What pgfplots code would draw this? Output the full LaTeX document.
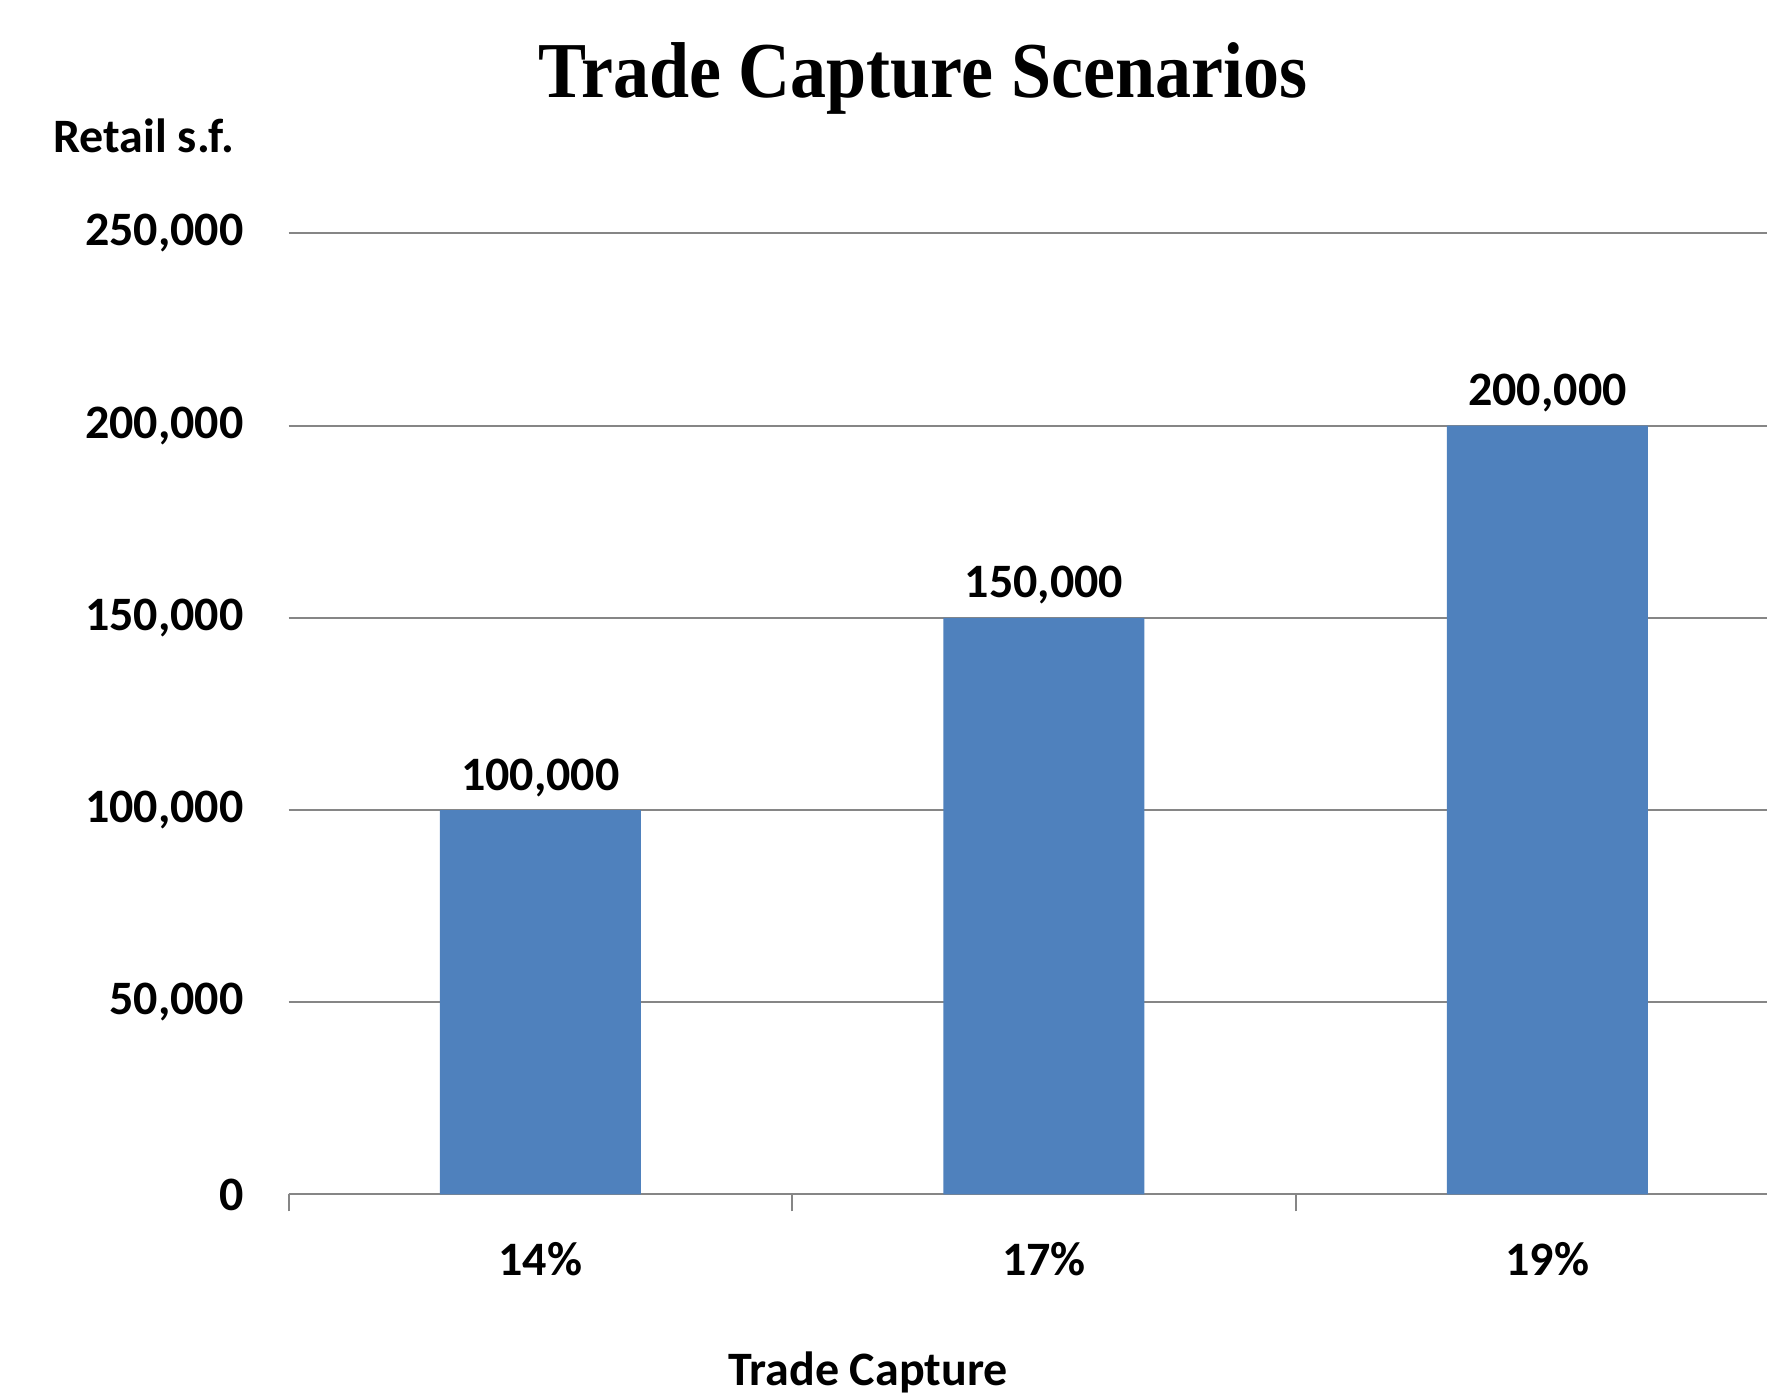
\documentclass[border=0pt]{standalone}
\usepackage{fontspec}
\setmainfont{Carlito}
\newfontfamily\titlefont{Liberation Serif}
\usepackage{pgfplots}
\pgfplotsset{compat=1.18}
\definecolor{barblue}{HTML}{4F81BD}
\definecolor{gridgray}{HTML}{868686}
\begin{document}
\begin{tikzpicture}
\useasboundingbox (0pt,0pt) rectangle (883.5pt,697.5pt);
\begin{axis}[
  at={(144.25pt,100.25pt)}, anchor=south west,
  scale only axis, width=739.25pt, height=480.6pt,
  xmin=-0.5, xmax=2.436, ymin=0, ymax=250000,
  axis x line*=bottom, axis y line*=left,
  x axis line style={draw=gridgray, line width=1pt, -},
  y axis line style={draw=none},
  ytick={0,50000,100000,150000,200000,250000},
  ymajorgrids, grid style={draw=gridgray, line width=1pt},
  ytick style={draw=none},
  scaled y ticks=false,
  /pgf/number format/.cd, fixed, 1000 sep={,}, assume math mode=true, /pgfplots/.cd,
  yticklabel style={font=\fontsize{24}{28}\selectfont\bfseries, anchor=east, inner sep=0pt, xshift=-13.75pt},
  xtick={-0.5,0.5,1.5,2.5}, xticklabels={},
  tick align=outside, major tick length=8.5pt,
  xtick style={draw=gridgray, line width=1pt},
  extra x ticks={0,1,2},
  extra x tick labels={14\%,17\%,19\%},
  extra x tick style={major tick length=0pt, tick style={draw=none}, xticklabel style={font=\fontsize{24}{28}\selectfont\bfseries, anchor=base, inner sep=0pt, yshift=-40.75pt}},
  ybar, bar width=100.5pt,
  nodes near coords,
  nodes near coords style={font=\fontsize{24}{28}\selectfont\bfseries, anchor=base, inner sep=0pt, yshift=10pt},
  clip=false,
]
\addplot[fill=barblue, draw=none] coordinates {(0,100000) (1,150000) (2,200000)};
\end{axis}
\node[anchor=base, inner sep=0pt] at (461.5pt,648.5pt) {\titlefont\bfseries\fontsize{36}{40}\selectfont\scalebox{1}[1.1]{Trade Capture Scenarios}};
\node[anchor=base west, inner sep=0pt] at (26.5pt,621pt) {\bfseries\fontsize{24}{28}\selectfont Retail s.f.};
\node[anchor=base, inner sep=0pt] at (434pt,4.5pt) {\bfseries\fontsize{24}{28}\selectfont Trade Capture};
\end{tikzpicture}
\end{document}
